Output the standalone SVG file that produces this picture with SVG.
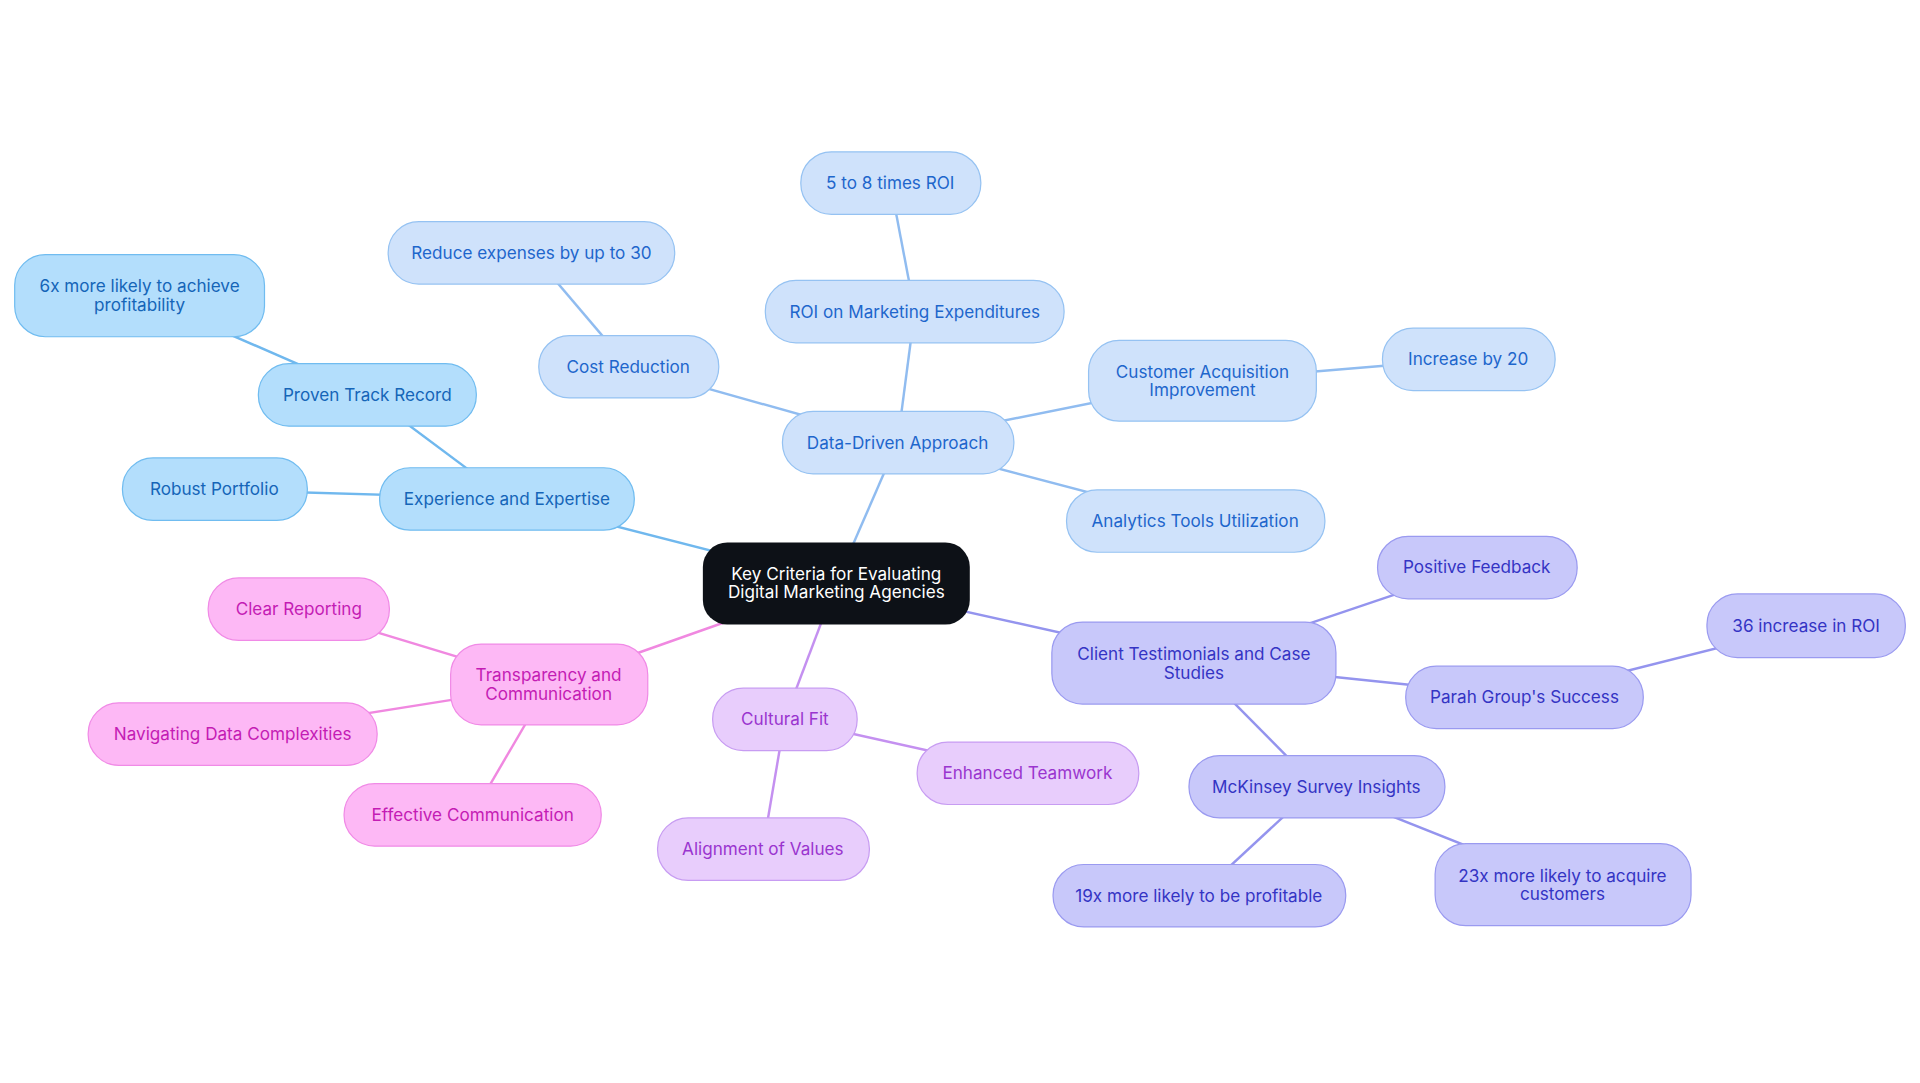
<svg xmlns="http://www.w3.org/2000/svg" width="1920" height="1083" viewBox="0 0 1920 1083">
<style>
text{font-family:Inter,"Liberation Sans",sans-serif;font-size:14px;text-anchor:middle;dominant-baseline:central}
.e line{stroke-width:2}
.b1 rect{fill:#b3defc;stroke:#70bcf0}.b1 text{fill:#1565b8}
.b2 rect{fill:#cfe2fb;stroke:#95c2f2}.b2 text{fill:#1e66cc}
.b3 rect{fill:#c8c8fa;stroke:#9a9af0}.b3 text{fill:#3434c4}
.b4 rect{fill:#e8cdfc;stroke:#c79cf2}.b4 text{fill:#9a35cf}
.b5 rect{fill:#fdb8f5;stroke:#f08ae6}.b5 text{fill:#c41cb4}
</style>
<rect width="1920" height="1083" fill="#fff"/>
<g transform="scale(1.2245)">
<g id="connectors" class="e">
<g stroke="#70b8ee"><line x1="683" y1="476" x2="414" y2="407"/><line x1="414" y1="407" x2="175" y2="400"/><line x1="414" y1="407" x2="300" y2="322"/><line x1="300" y1="322" x2="114" y2="241"/></g>
<g stroke="#90bcf0"><line x1="683" y1="476" x2="733" y2="361"/><line x1="733" y1="361" x2="513" y2="299"/><line x1="513" y1="299" x2="434" y2="206"/><line x1="733" y1="361" x2="747" y2="254"/><line x1="747" y1="254" x2="727" y2="149"/><line x1="733" y1="361" x2="982" y2="311"/><line x1="982" y1="311" x2="1199" y2="293"/><line x1="733" y1="361" x2="976" y2="425"/></g>
<g stroke="#9494ee"><line x1="683" y1="476" x2="975" y2="541"/><line x1="975" y1="541" x2="1206" y2="463"/><line x1="975" y1="541" x2="1245" y2="569"/><line x1="1245" y1="569" x2="1475" y2="511"/><line x1="975" y1="541" x2="1075" y2="642"/><line x1="1075" y1="642" x2="979" y2="731"/><line x1="1075" y1="642" x2="1276" y2="722"/></g>
<g stroke="#c490f0"><line x1="683" y1="476" x2="641" y2="587"/><line x1="641" y1="587" x2="839" y2="631"/><line x1="641" y1="587" x2="623" y2="693"/></g>
<g stroke="#f088e0"><line x1="683" y1="476" x2="448" y2="559"/><line x1="448" y1="559" x2="244" y2="497"/><line x1="448" y1="559" x2="190" y2="600"/><line x1="448" y1="559" x2="386" y2="665"/></g>
</g>
<g id="center"><rect x="574" y="443" width="218" height="67" rx="20" fill="#0d1117"/><text x="683" y="468" fill="#fff">Key Criteria for Evaluating</text><text x="683" y="483" fill="#fff">Digital Marketing Agencies</text></g>
<g id="n1" class="b1"><rect x="310" y="382" width="208" height="51" rx="25"/><text x="414" y="407">Experience and Expertise</text></g>
<g id="n2" class="b1"><rect x="100" y="374" width="151" height="51" rx="25"/><text x="175" y="399">Robust Portfolio</text></g>
<g id="n3" class="b1"><rect x="211" y="297" width="178" height="51" rx="25"/><text x="300" y="322">Proven Track Record</text></g>
<g id="n4" class="b1"><rect x="12" y="208" width="204" height="67" rx="25"/><text x="114" y="233">6x more likely to achieve</text><text x="114" y="249">profitability</text></g>
<g id="n5" class="b2"><rect x="639" y="336" width="189" height="51" rx="25"/><text x="733" y="361">Data-Driven Approach</text></g>
<g id="n6" class="b2"><rect x="440" y="274" width="147" height="51" rx="25"/><text x="513" y="299">Cost Reduction</text></g>
<g id="n7" class="b2"><rect x="317" y="181" width="234" height="51" rx="25"/><text x="434" y="206">Reduce expenses by up to 30</text></g>
<g id="n8" class="b2"><rect x="625" y="229" width="244" height="51" rx="25"/><text x="747" y="254">ROI on Marketing Expenditures</text></g>
<g id="n9" class="b2"><rect x="654" y="124" width="147" height="51" rx="25"/><text x="727" y="149">5 to 8 times ROI</text></g>
<g id="n10" class="b2"><rect x="889" y="278" width="186" height="66" rx="25"/><text x="982" y="303">Customer Acquisition</text><text x="982" y="318">Improvement</text></g>
<g id="n11" class="b2"><rect x="1129" y="268" width="141" height="51" rx="25"/><text x="1199" y="293">Increase by 20</text></g>
<g id="n12" class="b2"><rect x="871" y="400" width="211" height="51" rx="25"/><text x="976" y="425">Analytics Tools Utilization</text></g>
<g id="n13" class="b3"><rect x="859" y="508" width="232" height="67" rx="25"/><text x="975" y="534">Client Testimonials and Case</text><text x="975" y="549">Studies</text></g>
<g id="n14" class="b3"><rect x="1125" y="438" width="163" height="51" rx="25"/><text x="1206" y="463">Positive Feedback</text></g>
<g id="n15" class="b3"><rect x="1148" y="544" width="194" height="51" rx="25"/><text x="1245" y="569">Parah Group's Success</text></g>
<g id="n16" class="b3"><rect x="1394" y="485" width="162" height="52" rx="25"/><text x="1475" y="511">36 increase in ROI</text></g>
<g id="n17" class="b3"><rect x="971" y="617" width="209" height="51" rx="25"/><text x="1075" y="642">McKinsey Survey Insights</text></g>
<g id="n18" class="b3"><rect x="860" y="706" width="239" height="51" rx="25"/><text x="979" y="731">19x more likely to be profitable</text></g>
<g id="n19" class="b3"><rect x="1172" y="689" width="209" height="67" rx="25"/><text x="1276" y="715">23x more likely to acquire</text><text x="1276" y="730">customers</text></g>
<g id="n20" class="b4"><rect x="582" y="562" width="118" height="51" rx="25"/><text x="641" y="587">Cultural Fit</text></g>
<g id="n21" class="b4"><rect x="749" y="606" width="181" height="51" rx="25"/><text x="839" y="631">Enhanced Teamwork</text></g>
<g id="n22" class="b4"><rect x="537" y="668" width="173" height="51" rx="25"/><text x="623" y="693">Alignment of Values</text></g>
<g id="n23" class="b5"><rect x="368" y="526" width="161" height="66" rx="25"/><text x="448" y="551">Transparency and</text><text x="448" y="566">Communication</text></g>
<g id="n24" class="b5"><rect x="170" y="472" width="148" height="51" rx="25"/><text x="244" y="497">Clear Reporting</text></g>
<g id="n25" class="b5"><rect x="72" y="574" width="236" height="51" rx="25"/><text x="190" y="599">Navigating Data Complexities</text></g>
<g id="n26" class="b5"><rect x="281" y="640" width="210" height="51" rx="25"/><text x="386" y="665">Effective Communication</text></g>
</g>
</svg>
